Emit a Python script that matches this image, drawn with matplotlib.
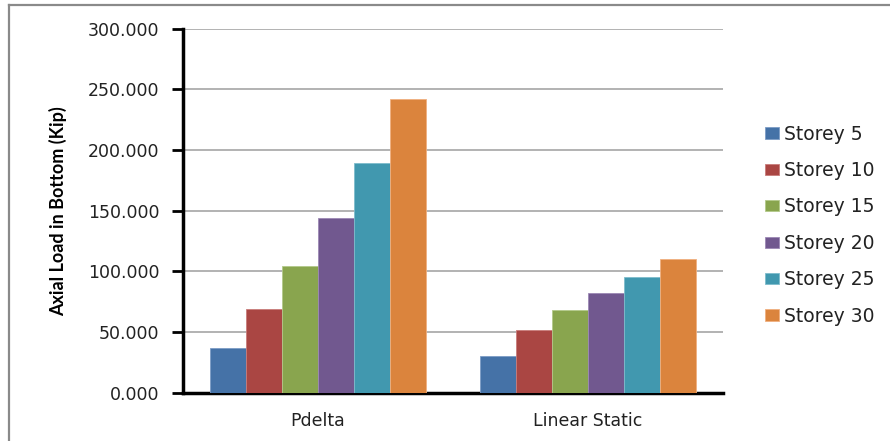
import matplotlib
matplotlib.use("Agg")
import matplotlib.pyplot as plt
import numpy as np
from matplotlib.lines import Line2D

categories = ["Pdelta", "Linear Static"]
series_names = ["Storey 5", "Storey 10", "Storey 15", "Storey 20", "Storey 25", "Storey 30"]
storey_5 = [36.8, 30.2]
storey_10 = [69.0, 51.3]
storey_15 = [104.4, 68.1]
storey_20 = [144.0, 82.2]
storey_25 = [189.0, 95.4]
storey_30 = [241.7, 109.9]
yticks = [0, 50, 100, 150, 200, 250, 300]

series = [storey_5, storey_10, storey_15, storey_20, storey_25, storey_30]
colors = ["#4572A7", "#AA4643", "#89A54E", "#71588F", "#4198AF", "#DB843D"]
edges = ["#7D9CC6", "#C97C7A", "#B3C98A", "#9C88B5", "#7EBCCC", "#F0B080"]

W, H = 890, 441
fig = plt.figure(figsize=(W / 100, H / 100), dpi=100)
ax = fig.add_axes([183 / W, 48.3 / H, (723 - 183) / W, (392.7 - 28.7) / H])

x = np.arange(len(categories))
n = len(series)
bar_w = 1.0 / (n + 1.5)
for i, (vals, c, ec, name) in enumerate(zip(series, colors, edges, series_names)):
    offs = (i - (n - 1) / 2) * bar_w
    ax.bar(x + offs, vals, width=bar_w, color=c, edgecolor=ec, linewidth=0.6,
           label=name, zorder=3)

ax.set_xlim(-0.5, 1.5)
ax.set_ylim(0, 300)
ax.set_yticks(yticks)
ax.set_yticklabels([f"{v:.3f}" for v in yticks], fontsize=12.5, color="#222222")
ax.set_xticks(x)
ax.set_xticklabels(categories, fontsize=12.5, color="#222222")
ax.tick_params(axis="x", length=0, pad=14)
ax.tick_params(axis="y", length=8, width=2, color="black", pad=9, direction="out")
ax.yaxis.grid(True, color="#A6A6A6", linewidth=1.2, zorder=0)
ax.set_axisbelow(True)
for s in ["top", "right"]:
    ax.spines[s].set_visible(False)
for s in ["left", "bottom"]:
    ax.spines[s].set_linewidth(2.5)
    ax.spines[s].set_color("black")

ax.set_ylabel("Axial Load in Bottom (Kip)", fontsize=13,
              fontweight="bold", family=["Lato", "DejaVu Sans"])
ax.yaxis.set_label_coords(-(183 - 58) / (723 - 183), 0.5)
ax.yaxis.label.set_verticalalignment("center")

leg = fig.legend(loc="upper left", bbox_to_anchor=(757 / W, 1 - 117 / H),
                 frameon=False, fontsize=13.5, handlelength=0.75, handleheight=0.55,
                 handletextpad=0.3, labelspacing=0.93, borderaxespad=0)
for t in leg.get_texts():
    t.set_color("#222222")

# outer chart frame (top and left edges)
frame_kw = dict(transform=fig.transFigure, color="#8A8A8A", linewidth=1.6)
fig.lines.append(Line2D([9 / W, 1.0], [1 - 5 / H, 1 - 5 / H], **frame_kw))
fig.lines.append(Line2D([9 / W, 9 / W], [0.0, 1 - 5 / H], **frame_kw))

fig.savefig("out.png", dpi=100)
